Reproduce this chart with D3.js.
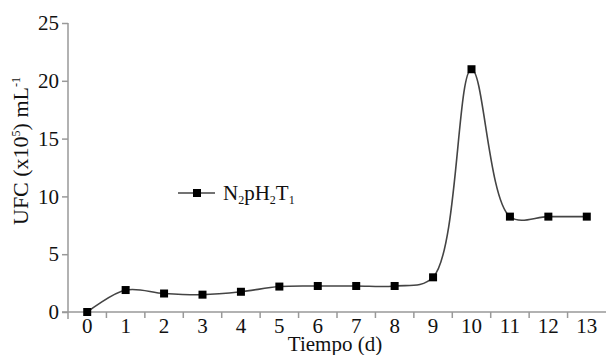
<!DOCTYPE html>
<html>
<head>
<meta charset="utf-8">
<script src="https://cdn.jsdelivr.net/npm/d3@7"></script>
<style>
  body { margin: 0; background: #fff; }
  text { font-family: "Liberation Serif", "DejaVu Serif", serif; fill: #111; }
</style>
</head>
<body>
<div id="chart"></div>
<script>
const W = 608, H = 355;
const MARGIN = {top: 23, right: 2, bottom: 43, left: 68};
const FS = 21; // font size of the figure

// data
const days = [0, 1, 2, 3, 4, 5, 6, 7, 8, 9, 10, 11, 12, 13];
const ufc = [0, 1.9, 1.6, 1.5, 1.75, 2.2, 2.25, 2.25, 2.25, 3.0, 21.0, 8.25, 8.25, 8.25];
const yTicks = [0, 5, 10, 15, 20, 25];
const seriesName = "N2pH2T1";

const svg = d3.select("#chart").append("svg")
    .attr("width", W)
    .attr("height", H);

var x = d3.scaleBand()
    .domain(days)
    .range([MARGIN.left, 606]);

var y = d3.scaleLinear()
    .domain([0, 25])
    .range([312, MARGIN.top]);

const axisColor = "#999";

// y axis
const gy = svg.append("g")
    .attr("transform", `translate(${MARGIN.left},0)`)
    .call(d3.axisLeft(y).tickValues(yTicks).tickSize(6).tickPadding(3));
gy.select(".domain").remove();
gy.append("line")
    .attr("x1", 0).attr("x2", 0)
    .attr("y1", y(25)).attr("y2", y(0) + 7)
    .attr("stroke", axisColor).attr("stroke-width", 1.5);
gy.selectAll(".tick line").attr("stroke", axisColor).attr("stroke-width", 1.5);
gy.selectAll(".tick text")
    .attr("font-size", FS)
    .attr("font-family", "Liberation Serif")
    .attr("fill", "#111");

// x axis, ticks sit on band boundaries
const gx = svg.append("g")
    .attr("transform", `translate(0,${y(0)})`);
gx.append("line")
    .attr("x1", MARGIN.left - 6).attr("x2", 606)
    .attr("stroke", axisColor).attr("stroke-width", 1.5);
gx.selectAll(".xtick")
    .data(days.slice(1))
    .enter().append("line")
    .attr("class", "xtick")
    .attr("x1", d => x(d)).attr("x2", d => x(d))
    .attr("y1", 0).attr("y2", 6)
    .attr("stroke", axisColor).attr("stroke-width", 1.5);
gx.selectAll(".xlabel")
    .data(days)
    .enter().append("text")
    .attr("class", "xlabel")
    .attr("x", d => x(d) + x.bandwidth() / 2)
    .attr("y", 21)
    .attr("text-anchor", "middle")
    .attr("font-size", FS)
    .text(d => d);

// axis titles
svg.append("text")
    .attr("x", 335).attr("y", 351)
    .attr("text-anchor", "middle")
    .attr("font-size", FS)
    .text("Tiempo (d)");

const yt = svg.append("text")
    .attr("transform", "translate(28,151) rotate(-90)")
    .attr("text-anchor", "middle")
    .attr("font-size", 22);
yt.append("tspan").text("UFC (x10");
yt.append("tspan").attr("font-size", 12).attr("dy", -8).text("5");
yt.append("tspan").attr("dy", 8).text(") mL");
yt.append("tspan").attr("font-size", 12).attr("dy", -8).text("-1");

// series
const cx = d => x(d) + x.bandwidth() / 2;
const line = d3.line()
    .x((d, i) => cx(days[i]))
    .y(d => y(d))
    .curve(d3.curveCatmullRom.alpha(0.5));

svg.append("path")
    .datum(ufc)
    .attr("d", line)
    .attr("fill", "none")
    .attr("stroke", "#444")
    .attr("stroke-width", 1.6);

svg.selectAll(".pt")
    .data(ufc)
    .enter().append("rect")
    .attr("class", "pt")
    .attr("x", (d, i) => cx(days[i]) - 4)
    .attr("y", d => y(d) - 4)
    .attr("width", 8).attr("height", 8)
    .attr("fill", "#000");

// legend
const lg = svg.append("g").attr("transform", "translate(178,193)");
lg.append("line").attr("x1", 0).attr("x2", 37)
    .attr("stroke", "#444").attr("stroke-width", 1.6);
lg.append("rect").attr("x", 15).attr("y", -4).attr("width", 8).attr("height", 8).attr("fill", "#000");
const lt = lg.append("text").attr("x", 45).attr("y", 7).attr("font-size", FS);
// subscripts in the series name
let sub = false;
seriesName.split("").forEach(ch => {
    const isDigit = /\d/.test(ch);
    const dy = isDigit && !sub ? 4 : (!isDigit && sub ? -4 : 0);
    lt.append("tspan").attr("font-size", isDigit ? 12 : FS).attr("dy", dy).text(ch);
    sub = isDigit;
});
</script>
</body>
</html>
